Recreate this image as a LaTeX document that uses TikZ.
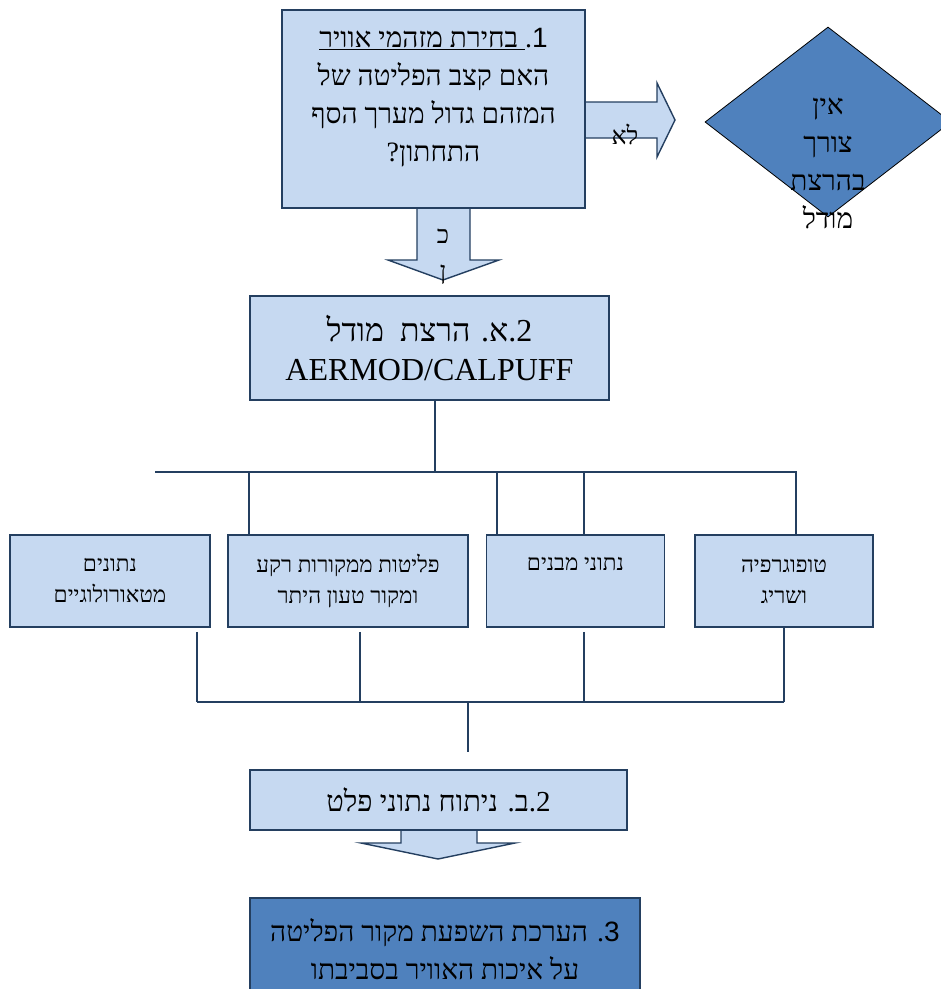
\documentclass[tikz,border=0pt]{standalone}
\usepackage{fontspec}
\setmainfont{Liberation Serif}
\newfontfamily\hebfont[Script=Hebrew]{Liberation Serif}
\newfontfamily\numfont{Liberation Sans}
\TeXXeTstate=1
\usetikzlibrary{shapes.geometric}

\definecolor{boxfill}{HTML}{C6D9F1}
\definecolor{deepfill}{HTML}{4F81BD}
\definecolor{edge}{HTML}{243F60}

\newcommand\heb[1]{{\hebfont\beginR#1\endR}}
\newcommand\zk{\kern0pt}

\begin{document}
\begin{tikzpicture}[x=1pt, y=-1pt,
  box/.style={draw=edge, line width=1.6pt, fill=boxfill, align=center, inner sep=0pt},
  darkbox/.style={box, fill=deepfill},
  decision/.style={diamond, draw=black, line width=0.8pt, fill=deepfill, inner sep=0pt},
  link/.style={draw=edge, line width=1.6pt},
  blockarrow/.style={draw=edge, line width=1.4pt, fill=boxfill, line join=miter},
  big/.style={align=center, font=\fontsize{28}{38}\selectfont},
  small/.style={font=\fontsize{22.5}{31}\selectfont},
  tag/.style={align=center, font=\fontsize{25}{36}\selectfont}]
\useasboundingbox (0,0) rectangle (941,989);
\clip (0,0) rectangle (941,989);

% block arrows go first, the boxes cover their tails
\draw[blockarrow] (575,102) -- (657,102) -- (657,83) -- (675,120) -- (657,157) -- (657,138) -- (575,138);
\draw[blockarrow] (417,200) -- (417,260) -- (388,260) -- (443,280) -- (499,260) -- (470,260) -- (470,200);
\draw[blockarrow] (401,820) -- (401,843) -- (361,843) -- (438,859) -- (515,843) -- (477,843) -- (477,820);

% step 1 and the no branch
\node[box, minimum width=303pt, minimum height=198pt] (q) at (433.5,109) {};
\node[big] at (433.5,98) {\heb{{\numfont 1}\zk.\underline{\beginR\ בחירת מזהמי אוויר\endR}}\\
  \heb{האם קצב הפליטה של}\\
  \heb{המזהם גדול מערך הסף}\\
  \heb{התחתון\zk?}};
\node[tag] (no) at (625,134) {\heb{לא}};
\node[decision, minimum width=246pt, minimum height=190pt] (noneed) at (828,122) {};
\node[big] at (828,163) {\heb{אין}\\\heb{צורך}\\\heb{בהרצת}\\\heb{מודל}};
\node[tag] (yes) at (443,257) {\heb{כ}\\\heb{ן}};

% step 2a and its inputs
\node[box, font=\fontsize{32}{39}\selectfont, minimum width=359pt, minimum height=104pt] (a2) at (429.5,348)
  {\heb{2\zk.\zk א\zk. הרצת\ \ מודל}\\AERMOD/CALPUFF};
\node[box, small, minimum width=200pt, minimum height=92pt] (meteo) at (110,581)
  {\heb{נתונים}\\\heb{מטאורולוגיים}};
\node[box, small, minimum width=240pt, minimum height=92pt] (emis) at (348,581)
  {\heb{פליטות ממקורות רקע}\\\heb{ומקור טעון היתר}};
\node[box, small, minimum width=178pt, minimum height=92pt] (bldg) at (575.5,581) {};
\node[small] at (575.5,564) {\heb{נתוני מבנים}};
\node[box, small, minimum width=178pt, minimum height=92pt] (topo) at (784,581)
  {\heb{טופוגרפיה}\\\heb{ושריג}};

\draw[link] (435,0 |- a2.south) -- (435,472);
\draw[link] (155,472) -- (796,472) -- (796,0 |- topo.north);
\foreach \x in {249,497,584}
  \draw[link] (\x,472) -- (\x,0 |- emis.north);
\foreach \x/\n/\gap in {197/meteo/4,360/emis/4,584/bldg/4,784/topo/0}
  \draw[link, shorten <=\gap pt] (\x,0 |- \n.south) -- (\x,702);
\draw[link] (197,702) -- (784,702);
\draw[link] (468,702) -- (468,752);

% step 2b and step 3
\node[box, font=\fontsize{29}{38}\selectfont, minimum width=377pt, minimum height=60pt] (b2) at (438.5,800)
  {\heb{2\zk.\zk ב\zk. ניתוח נתוני פלט}};
\node[darkbox, big, minimum width=390pt, minimum height=102pt] (eval) at (445,949)
  {\heb{{\numfont 3}\zk. הערכת השפעת מקור הפליטה}\\\heb{על איכות האוויר בסביבתו}};
\end{tikzpicture}
\end{document}
